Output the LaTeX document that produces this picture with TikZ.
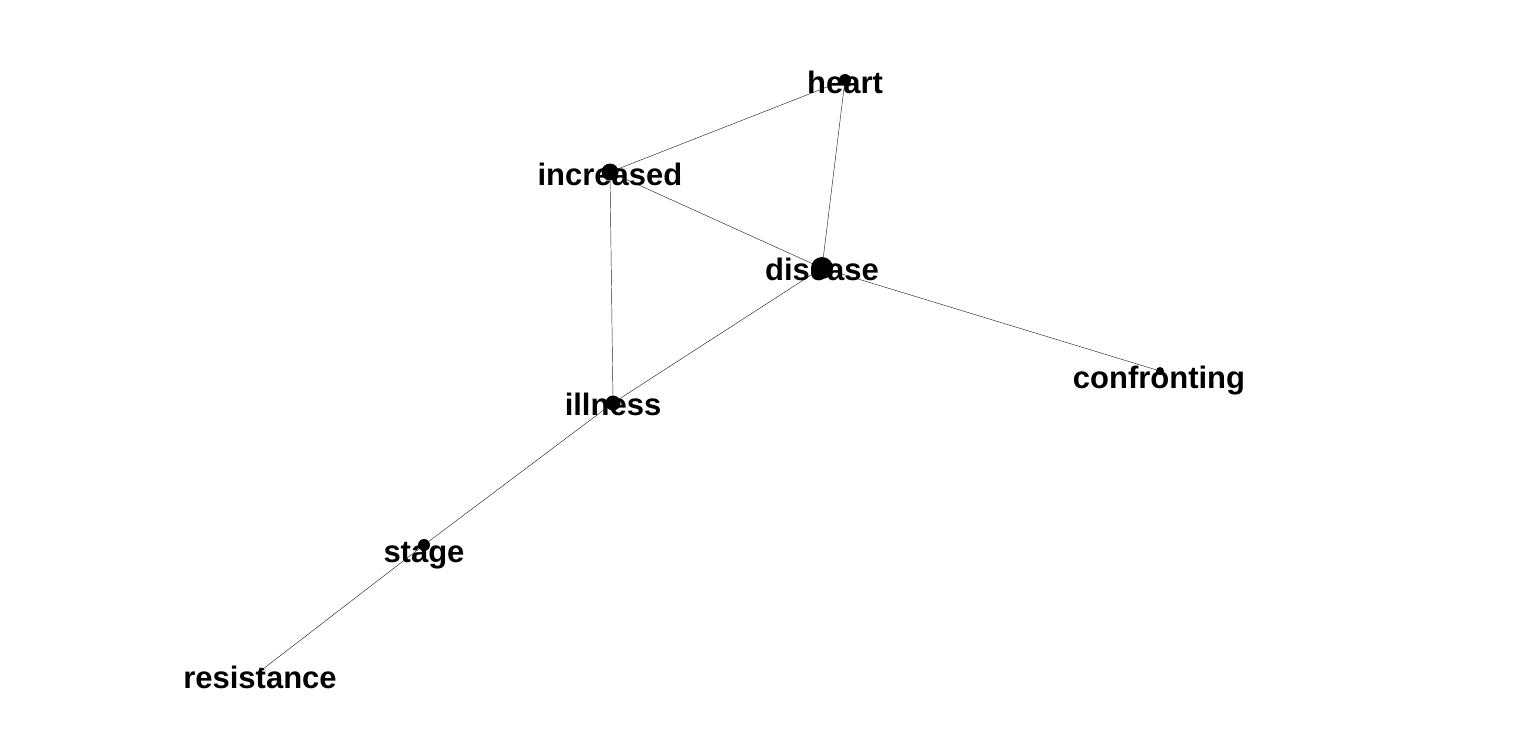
\documentclass[tikz,border=0pt]{standalone}
\usepackage{fontspec}
\setmainfont{Liberation Sans}
\usetikzlibrary{positioning,calc}

\begin{document}
\begin{tikzpicture}[x=1pt,y=-1pt,
        vertex/.style={circle, fill=black, inner sep=0pt},
        word/.style={font=\bfseries\fontsize{31}{36}\selectfont, anchor=base, inner sep=0pt},
        edge/.style={line width=0.45pt, black!85}]
        \useasboundingbox (0,0) rectangle (1524,734);
        % Vertices
        \node[vertex, minimum size=12pt] (heart) at (845,80) {};
        \node[vertex, minimum size=17pt] (increased) at (610,172) {};
        \node[vertex, minimum size=22pt] (disease) at (822,268) {};
        \node[vertex, minimum size=15pt] (illness) at (613,403) {};
        \node[vertex, minimum size=8pt] (confronting) at (1160,371) {};
        \node[vertex, minimum size=12pt] (stage) at (424,545) {};
        \node[vertex, minimum size=3pt] (resistance) at (263,669) {};
        % Draw edges
        \draw[edge] (heart) -- (increased);
        \draw[edge] (heart) -- (disease);
        \draw[edge] (increased) -- (disease);
        \draw[edge] (increased) -- (illness);
        \draw[edge] (disease) -- (illness);
        \draw[edge] (disease) -- (confronting);
        \draw[edge] (illness) -- (stage);
        \draw[edge] (stage) -- (resistance);
        % Labels
        \node[word] (heart-text) at ([yshift=-13pt]heart.center) {heart};
        \node[word] (increased-text) at ([yshift=-13pt]increased.center) {increased};
        \node[word] (disease-text) at ([yshift=-12pt]disease.center) {disease};
        \node[word] (illness-text) at ([yshift=-12pt]illness.center) {illness};
        \node[word] (confronting-text) at ([xshift=-1pt,yshift=-17pt]confronting.center) {confronting};
        \node[word] (stage-text) at ([yshift=-17pt]stage.center) {stage};
        \node[word] (resistance-text) at ([xshift=-3pt,yshift=-19pt]resistance.center) {resistance};
\end{tikzpicture}
\end{document}
